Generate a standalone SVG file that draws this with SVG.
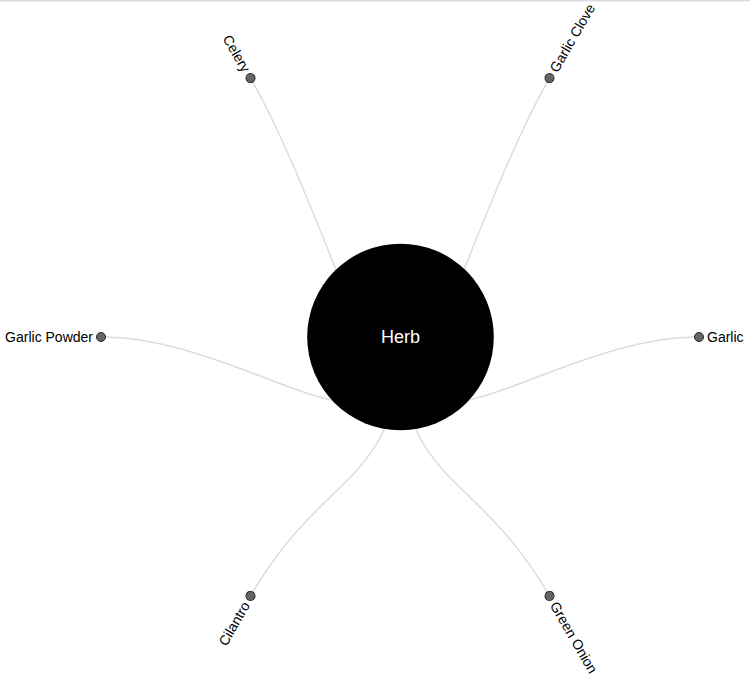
<svg xmlns="http://www.w3.org/2000/svg" width="750" height="675" viewBox="0 0 750 675">
<style>
.link{fill:none;stroke:#dddddd;stroke-width:1.5}
.leaf circle{fill:#666;stroke:#222;stroke-width:1}
.leaf text{font-family:"Liberation Sans",Arial,sans-serif;font-size:14px;fill:#000}
.root text{font-family:"Liberation Sans",Arial,sans-serif;font-size:18px;fill:#fff}
</style>
<rect x="0" y="0" width="750" height="675" fill="#fff"/>
<rect x="0" y="0" width="750" height="1.5" fill="#dcdcdc"/>
<g id="links">
<path class="link" d="M400,337C400,486.5 474.75,207.53 549.5,78.06"/>
<path class="link" d="M400,337C400,486.5 549.5,337 699,337"/>
<path class="link" d="M400,337C400,486.5 474.75,466.47 549.5,595.94"/>
<path class="link" d="M400,337C400,486.5 325.25,466.47 250.5,595.94"/>
<path class="link" d="M400,337C400,486.5 250.5,337 101,337"/>
<path class="link" d="M400,337C400,486.5 325.25,207.53 250.5,78.06"/>
</g>
<g id="node-herb" class="root">
<circle cx="400.5" cy="337" r="93.3" fill="#000"/>
<text x="400.5" y="337" dy="0.35em" text-anchor="middle">Herb</text>
</g>
<g transform="translate(400,337)">
<g id="node-garlic-clove" class="leaf" transform="rotate(-60) translate(299,0)">
<circle r="4.5"/><text x="8" dy="0.33em" text-anchor="start">Garlic Clove</text>
</g>
<g id="node-garlic" class="leaf" transform="rotate(0) translate(299,0)">
<circle r="4.5"/><text x="8" dy="0.33em" text-anchor="start">Garlic</text>
</g>
<g id="node-green-onion" class="leaf" transform="rotate(60) translate(299,0)">
<circle r="4.5"/><text x="8" dy="0.33em" text-anchor="start">Green Onion</text>
</g>
<g id="node-cilantro" class="leaf" transform="rotate(120) translate(299,0)">
<circle r="4.5"/><text x="-8" dy="0.33em" text-anchor="end" transform="rotate(180)">Cilantro</text>
</g>
<g id="node-garlic-powder" class="leaf" transform="rotate(180) translate(299,0)">
<circle r="4.5"/><text x="-8" dy="0.33em" text-anchor="end" transform="rotate(180)">Garlic Powder</text>
</g>
<g id="node-celery" class="leaf" transform="rotate(240) translate(299,0)">
<circle r="4.5"/><text x="-8" dy="0.33em" text-anchor="end" transform="rotate(180)">Celery</text>
</g>
</g>
</svg>
